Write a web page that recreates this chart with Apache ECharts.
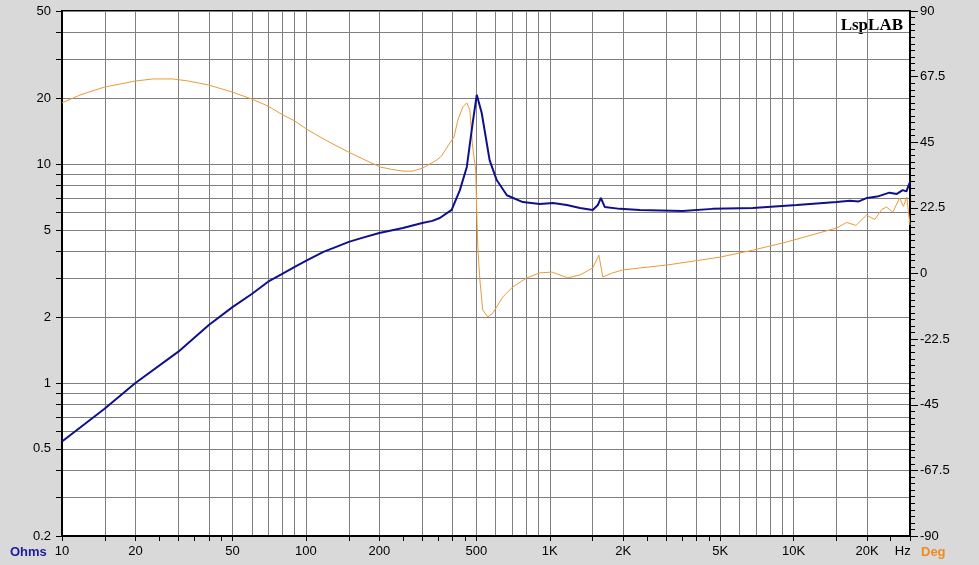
<!DOCTYPE html>
<html>
<head>
<meta charset="utf-8">
<script src="https://cdn.jsdelivr.net/npm/echarts@6/dist/echarts.min.js"></script>
<style>
html,body{margin:0;padding:0;background:#d9d9d9;}
#chart{width:979px;height:565px;}
</style>
</head>
<body>
<div id="chart"></div>
<script>
// Impedance magnitude (Ohms) vs frequency (Hz)
const zFreq = [10, 14.9, 20, 30, 40, 50, 60, 70, 80, 90, 100, 118, 130, 150, 170, 200, 250, 300, 330, 354, 396, 428, 457, 483, 502, 526, 567, 606, 667, 775, 910, 1030, 1175, 1330, 1500, 1575, 1620, 1680, 1940, 2340, 3500, 4650, 6800, 10300, 15000, 17000, 18500, 20000, 22000, 24700, 26500, 28000, 29000, 30000];
const zOhm  = [0.54, 0.76, 1.0, 1.39, 1.84, 2.22, 2.55, 2.9, 3.15, 3.39, 3.61, 3.97, 4.14, 4.41, 4.6, 4.84, 5.1, 5.38, 5.5, 5.67, 6.17, 7.6, 9.7, 15.4, 20.7, 17.1, 10.4, 8.45, 7.2, 6.7, 6.57, 6.64, 6.5, 6.3, 6.17, 6.5, 7.0, 6.37, 6.24, 6.17, 6.1, 6.24, 6.3, 6.5, 6.7, 6.8, 6.75, 7.0, 7.1, 7.4, 7.3, 7.6, 7.5, 8.3];
// Phase (degrees) vs frequency (Hz)
const pFreq = [10, 11.85, 14.9, 20, 23.6, 28.5, 33, 40, 50, 60, 70, 78, 90, 102, 120, 149, 175, 202, 225, 250, 274, 302, 344, 360, 389, 405, 420, 440, 457, 470, 483, 497, 502, 507, 517, 531, 557, 584, 641, 705, 805, 910, 1020, 1186, 1330, 1500, 1590, 1650, 1810, 1990, 2340, 3020, 4980, 6800, 9360, 15000, 16500, 18000, 19900, 21500, 23000, 24050, 25500, 27200, 28200, 29100, 30000];
const pDeg  = [58.5, 61.2, 63.9, 66.0, 66.7, 66.7, 66.0, 64.6, 62.2, 59.8, 57.4, 55.0, 52.3, 49.2, 45.8, 41.7, 38.9, 36.5, 35.7, 35.1, 35.1, 36.2, 38.9, 40.3, 44.7, 46.8, 52.6, 57.1, 58.5, 56.1, 43.4, 35.5, 20.7, 9.1, -2.2, -12.5, -14.9, -13.6, -8.1, -4.6, -1.5, 0.2, 0.5, -1.5, -0.5, 1.9, 6.3, -1.2, 0.2, 1.2, 1.9, 2.9, 5.6, 8.0, 10.8, 15.6, 17.5, 16.5, 20.0, 18.5, 22.0, 22.8, 21.0, 25.9, 23.0, 26.2, 16.6];

// Axis tick / label / grid values
const xLabelVals = [10, 20, 50, 100, 200, 500, 1000, 2000, 5000, 10000, 20000, 28000];
const xTickVals = [10,15,20,25,30,35,40,45,50, 100,150,200,250,300,350,400,450,500, 1000,1500,2000,2500,3000,3500,4000,4500,5000, 10000,15000,20000,25000,30000];
const xGridVals = [10,15,20,30,40,50,60,70,80,90, 100,150,200,300,400,500,600,700,800,900, 1000,1500,2000,3000,4000,5000,6000,7000,8000,9000, 10000,15000,20000,30000];
const yLabelVals = [0.2, 0.5, 1, 2, 5, 10, 20, 50];
const yGridVals = [0.2,0.3,0.4,0.5,0.6,0.7,0.8,0.9,1,2,3,4,5,6,7,8,9,10,20,30,40,50];

const FONT = 'Liberation Sans, Arial, sans-serif';
const zData = zFreq.map((f, i) => [f, zOhm[i]]);
const pData = pFreq.map((f, i) => [f, pDeg[i]]);

function fmtHz(v) {
  if (v === 28000) return 'Hz';
  if (v >= 1000) return (v / 1000) + 'K';
  return String(v);
}

const chart = echarts.init(document.getElementById('chart'));
chart.setOption({
  backgroundColor: '#d9d9d9',
  animation: false,
  grid: { left: 62, right: 69, top: 11, bottom: 29, show: true, backgroundColor: '#ffffff', borderColor: '#000', borderWidth: 2 },
  xAxis: [
    {
      type: 'log', min: 10, max: 30000, position: 'bottom',
      axisLine: { show: true, onZero: false, lineStyle: { color: '#000', width: 2 } },
      axisTick: { show: true, customValues: xTickVals, length: 5, lineStyle: { color: '#000' } },
      axisLabel: { customValues: xLabelVals, formatter: fmtHz, color: '#000', fontFamily: FONT, fontSize: 13, margin: 9 },
      splitLine: { show: false }
    },
    {
      type: 'log', min: 10, max: 30000, position: 'bottom',
      axisLine: { show: false, onZero: false },
      axisTick: { show: false, customValues: xGridVals },
      axisLabel: { show: false },
      splitLine: { show: true, lineStyle: { color: '#808080', width: 1 } }
    }
  ],
  yAxis: [
    {
      type: 'log', min: 0.2, max: 50, position: 'left',
      axisLine: { show: true, onZero: false, lineStyle: { color: '#000', width: 2 } },
      axisTick: { show: true, customValues: yGridVals, length: 6, lineStyle: { color: '#000' } },
      axisLabel: { customValues: yLabelVals, color: '#000', fontFamily: FONT, fontSize: 13, margin: 11 },
      splitLine: { show: true, lineStyle: { color: '#808080', width: 1 } }
    },
    {
      type: 'value', min: -90, max: 90, interval: 22.5, position: 'right',
      axisLine: { show: true, onZero: false, lineStyle: { color: '#000', width: 2 } },
      axisTick: { show: true, length: 8, lineStyle: { color: '#000' } },
      minorTick: { show: true, splitNumber: 10, length: 5, lineStyle: { color: '#000' } },
      axisLabel: { color: '#000', fontFamily: FONT, fontSize: 13, margin: 10 },
      splitLine: { show: false }
    }
  ],
  series: [
    {
      name: 'Phase', type: 'line', xAxisIndex: 0, yAxisIndex: 1, data: pData,
      showSymbol: false, symbol: 'none', smooth: false,
      lineStyle: { color: '#ec9a38', width: 1 }, z: 3
    },
    {
      name: 'Impedance', type: 'line', xAxisIndex: 0, yAxisIndex: 0, data: zData,
      showSymbol: false, symbol: 'none', smooth: false,
      lineStyle: { color: '#10108c', width: 2 }, z: 4
    }
  ],
  graphic: [
    { type: 'text', left: 10, top: 546, style: { text: 'Ohms', fill: '#1b1b9e', font: 'bold 13px ' + FONT } },
    { type: 'text', left: 921, top: 546, style: { text: 'Deg', fill: '#f08c1e', font: 'bold 13px ' + FONT } },
    { type: 'text', right: 76, top: 17, style: { text: 'LspLAB', fill: '#000', font: 'bold 17px Liberation Serif, Times New Roman, serif', textShadowColor: '#999', textShadowOffsetX: 2, textShadowOffsetY: 2, textShadowBlur: 0 } }
  ]
});
</script>
</body>
</html>
